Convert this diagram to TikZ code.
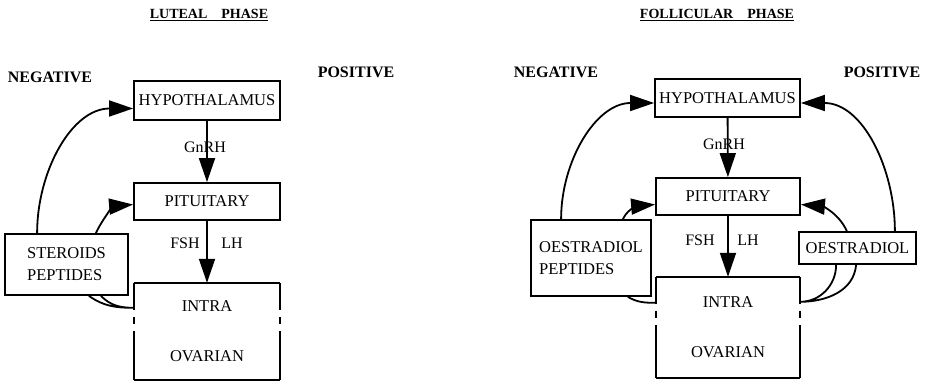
\documentclass[tikz,border=0pt]{standalone}
\usepackage{fontspec}
\setmainfont{Liberation Serif}
\usetikzlibrary{arrows.meta}
\tikzset{%
    organ/.style={%
        draw, line width=1.8pt, inner sep=0pt, font=\fontsize{16.5}{22}\selectfont
    },
    ovary/.style={%
        inner sep=0pt, align=center, font=\fontsize{16.5}{50}\selectfont
    },
    hormone/.style={%
        font=\fontsize{16}{18}\selectfont
    },
    feedback/.style={%
        font=\bfseries\fontsize{16}{18}\selectfont
    },
    phase/.style={%
        font=\bfseries\fontsize{14}{16}\selectfont
    },
    flow/.style={%
        line width=1.8pt, -{Triangle[length=24pt,width=16pt]}
    },
    brokenside/.style={%
        line width=1.8pt, dash pattern=on 27pt off 7pt on 7pt off 7pt on 70pt
    }
}

\begin{document}
\begin{tikzpicture}[x=1pt,y=-1pt]
    \useasboundingbox (0,0) rectangle (927,382);

    % luteal phase
    \node[phase] (titleL) at (209,15) {\underline{LUTEAL\quad PHASE}};
    \node[feedback] (negL) at (50,77) {NEGATIVE};
    \node[feedback] (posL) at (356,72) {POSITIVE};

    \node[organ, minimum width=146pt, minimum height=39pt] (hypoL) at (207,100.5) {HYPOTHALAMUS};
    \node[organ, minimum width=146pt, minimum height=37pt] (pituL) at (207,201.5) {PITUITARY};
    \node[ovary, minimum width=146pt, minimum height=97pt] (ovaryL) at (207,331.5) {INTRA\\OVARIAN};
    \node[organ, minimum width=123pt, minimum height=61pt, align=left] (steroidsL) at (66.5,264.5) {STEROIDS\\PEPTIDES};

    \node[hormone] (gnrhL) at (205,147) {GnRH};
    \node[hormone] (fshL) at (185,243) {FSH};
    \node[hormone] (lhL) at (232,243) {LH};

    \draw[line width=1.8pt]
        (ovaryL.north west) -- (ovaryL.north east)
        (ovaryL.south west) -- (ovaryL.south east);
    \draw[brokenside]
        (ovaryL.north west) -- (ovaryL.south west)
        (ovaryL.north east) -- (ovaryL.south east);

    \draw[flow] (hypoL) -- (pituL);
    \draw[flow] (pituL) -- (ovaryL);
    \draw[flow] ([xshift=33pt]steroidsL.north west) to[out=90,in=180] ([yshift=-8pt]hypoL.west);
    \draw[flow] ([xshift=-33pt]steroidsL.north east) to[out=65,in=185] ([yshift=-3pt]pituL.west);
    \draw[line width=1.8pt]
        ([xshift=-40pt]steroidsL.south east) to[out=-35,in=180] ([yshift=-25pt]ovaryL.north west)
        ([xshift=-28pt]steroidsL.south east) to[out=-45,in=180] ([yshift=-25pt]ovaryL.north west);

    % follicular phase
    \node[phase] (titleR) at (717,15) {\underline{FOLLICULAR\quad PHASE}};
    \node[feedback] (negR) at (556,72) {NEGATIVE};
    \node[feedback] (posR) at (882,72) {POSITIVE};

    \node[organ, minimum width=145pt, minimum height=38pt] (hypoR) at (727.5,98) {HYPOTHALAMUS};
    \node[organ, minimum width=144pt, minimum height=37pt] (pituR) at (728,196.5) {PITUITARY};
    \node[ovary, minimum width=144pt, minimum height=101pt] (ovaryR) at (728,327.5) {INTRA\\OVARIAN};
    \node[organ, minimum width=120pt, minimum height=76pt, align=left] (oestpepR) at (591,258) {OESTRADIOL\\PEPTIDES};
    \node[organ, minimum width=117pt, minimum height=32pt] (oestR) at (857.5,248) {OESTRADIOL};

    \node[hormone] (gnrhR) at (724,144) {GnRH};
    \node[hormone] (fshR) at (700,240) {FSH};
    \node[hormone] (lhR) at (748,240) {LH};

    \draw[line width=1.8pt]
        (ovaryR.north west) -- (ovaryR.north east)
        (ovaryR.south west) -- (ovaryR.south east);
    \draw[brokenside]
        (ovaryR.north west) -- (ovaryR.south west)
        (ovaryR.north east) -- (ovaryR.south east);

    \draw[flow] (hypoR) -- (pituR);
    \draw[flow] (pituR) -- (ovaryR);
    \draw[flow] ([xshift=31pt]oestpepR.north west) to[out=90,in=180] ([yshift=-5pt]hypoR.west);
    \draw[flow] ([xshift=-29pt]oestpepR.north east) to[out=65,in=185] ([yshift=-8pt]pituR.west);
    \draw[flow] ([xshift=-22pt]oestR.north east) to[out=90,in=0] ([yshift=-5pt]hypoR.east);
    \draw[flow] ([xshift=-70pt]oestR.north east) to[out=115,in=-5] ([yshift=-8pt]pituR.east);
    \draw[line width=1.8pt]
        ([xshift=-24pt]oestpepR.south east) to[out=-30,in=180] ([yshift=-26pt]ovaryR.north west)
        ([xshift=38pt]oestR.south west) to[out=-90,in=0] ([yshift=-25pt]ovaryR.north east)
        ([xshift=58pt]oestR.south west) to[out=-95,in=0] ([yshift=-25pt]ovaryR.north east);
\end{tikzpicture}
\end{document}
